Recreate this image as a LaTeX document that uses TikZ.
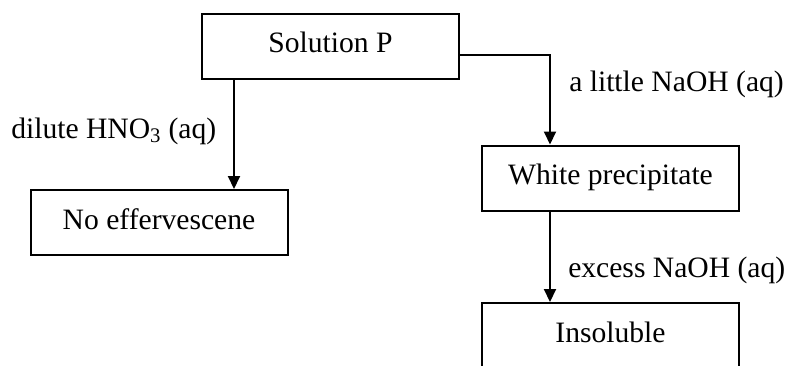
\documentclass[tikz,border=0pt]{standalone}
\usepackage{fontspec}
\setmainfont{Liberation Serif}
\usetikzlibrary{arrows.meta}
\begin{document}
\begin{tikzpicture}[x=0.75pt,y=-0.75pt,
  box/.style={draw,line width=1.5pt,minimum width=257*0.75pt,minimum height=65*0.75pt,
    inner sep=0pt,text height=15pt,text depth=5pt,
    font=\fontsize{22.2}{26}\selectfont},
  lbl/.style={inner sep=0pt,font=\fontsize{22.2}{26}\selectfont},
  arr/.style={line width=1.5pt,-{Triangle[length=9.75pt,width=9pt]}},
  conn/.style={line width=1.5pt}]
\useasboundingbox (0,0) rectangle (790,365);
\node[box] (P) at (330.5,46) {Solution P};
\node[box] (N) at (159,222.5) {No effervescene};
\node[box] (W) at (610.5,178) {White precipitate};
\node[box] (I) at (610.5,335.5) {Insoluble};
\coordinate (L) at (234,0);
\coordinate (R) at (550,0);
\draw[arr] (P.south -| L) -- (N.north -| L);
\draw[arr] ([yshift=-9*0.75pt]P.east) -| (W.north -| R);
\draw[arr] (W.south -| R) -- (I.north -| R);
\node[lbl,anchor=base west] (t1) at (11,138) {dilute HNO\textsubscript{3} (aq)};
\node[lbl,anchor=base west] (t2) at (569,91) {a little NaOH (aq)};
\node[lbl,anchor=base west] (t3) at (568,277) {excess NaOH (aq)};
\end{tikzpicture}
\end{document}
